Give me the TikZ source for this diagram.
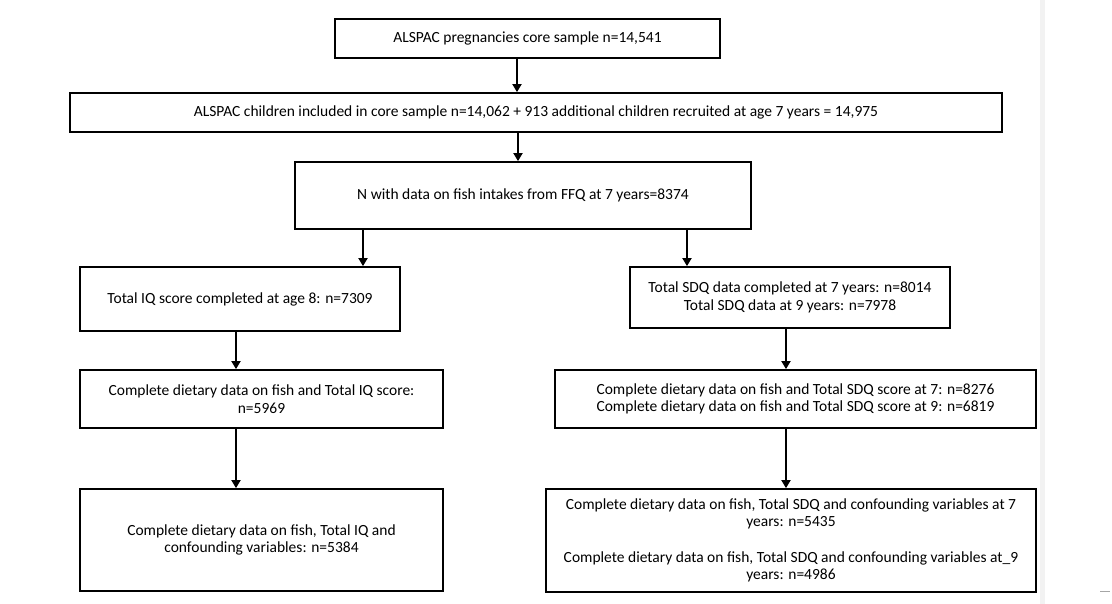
\documentclass[tikz,border=0pt]{standalone}
\usepackage{fontspec}
\setmainfont{Carlito}
\usetikzlibrary{arrows.meta}
\begin{document}
\begin{tikzpicture}[x=1pt,y=-1pt,
  box/.style={draw, line width=1.8pt, inner sep=0pt, align=center,
    font=\fontsize{15.5}{17.5}\selectfont},
  arr/.style={line width=1.8pt, -{Triangle[length=8pt,width=9pt]}}]
\useasboundingbox (0,0) rectangle (1112,604);
\fill[white] (0,0) rectangle (1112,604);
\fill[gray!10] (1040,0) rectangle (1045,604);
\draw[gray!70, line width=1pt] (1100,591) -- (1110,591);

\node[box, minimum width=385, minimum height=39] (b1) at (527.5,38.5)
  {ALSPAC pregnancies core sample n=14,541};
\node[box, minimum width=932, minimum height=39] (b2) at (536,112.5)
  {ALSPAC children included in core sample n=14,062 + 913 additional children recruited at age 7 years = 14,975};
\node[box, minimum width=456, minimum height=67] (b3) at (523,195.5)
  {N with data on fish intakes from FFQ at 7 years=8374};
\node[box, minimum width=320, minimum height=64] (b4) at (240,299)
  {Total IQ score completed at age 8: n=7309};
\node[box, minimum width=320, minimum height=61] (b5) at (790,297.5)
  {Total SDQ data completed at 7 years: n=8014\\Total SDQ data at 9 years: n=7978};
\node[box, minimum width=363, minimum height=58] (b6) at (261.5,399)
  {Complete dietary data on fish and Total IQ score:\\n=5969};
\node[box, minimum width=481, minimum height=58] (b7) at (795.5,399)
  {Complete dietary data on fish and Total SDQ score at 7: n=8276\\Complete dietary data on fish and Total SDQ score at 9: n=6819};
\node[box, minimum width=363, minimum height=102] (b8) at (261.5,540)
  {Complete dietary data on fish, Total IQ and\\confounding variables: n=5384};
\node[box, minimum width=490, minimum height=103] (b9) at (791,540.5)
  {Complete dietary data on fish, Total SDQ and confounding variables at 7\\years: n=5435\\[18pt]Complete dietary data on fish, Total SDQ and confounding variables at\_9\\years: n=4986};

\coordinate (xa) at (517,0);
\coordinate (xb) at (518,0);
\coordinate (xc) at (363,0);
\coordinate (xd) at (687,0);
\coordinate (xe) at (236,0);
\coordinate (xf) at (786,0);

\draw[arr] (b1.south -| xa) -- (b2.north -| xa);
\draw[arr] (b2.south -| xb) -- (b3.north -| xb);
\draw[arr] (b3.south -| xc) -- (b4.north -| xc);
\draw[arr] (b3.south -| xd) -- (b5.north -| xd);
\draw[arr] (b4.south -| xe) -- (b6.north -| xe);
\draw[arr] (b5.south -| xf) -- (b7.north -| xf);
\draw[arr] (b6.south -| xe) -- (b8.north -| xe);
\draw[arr] (b7.south -| xf) -- (b9.north -| xf);
\end{tikzpicture}
\end{document}
